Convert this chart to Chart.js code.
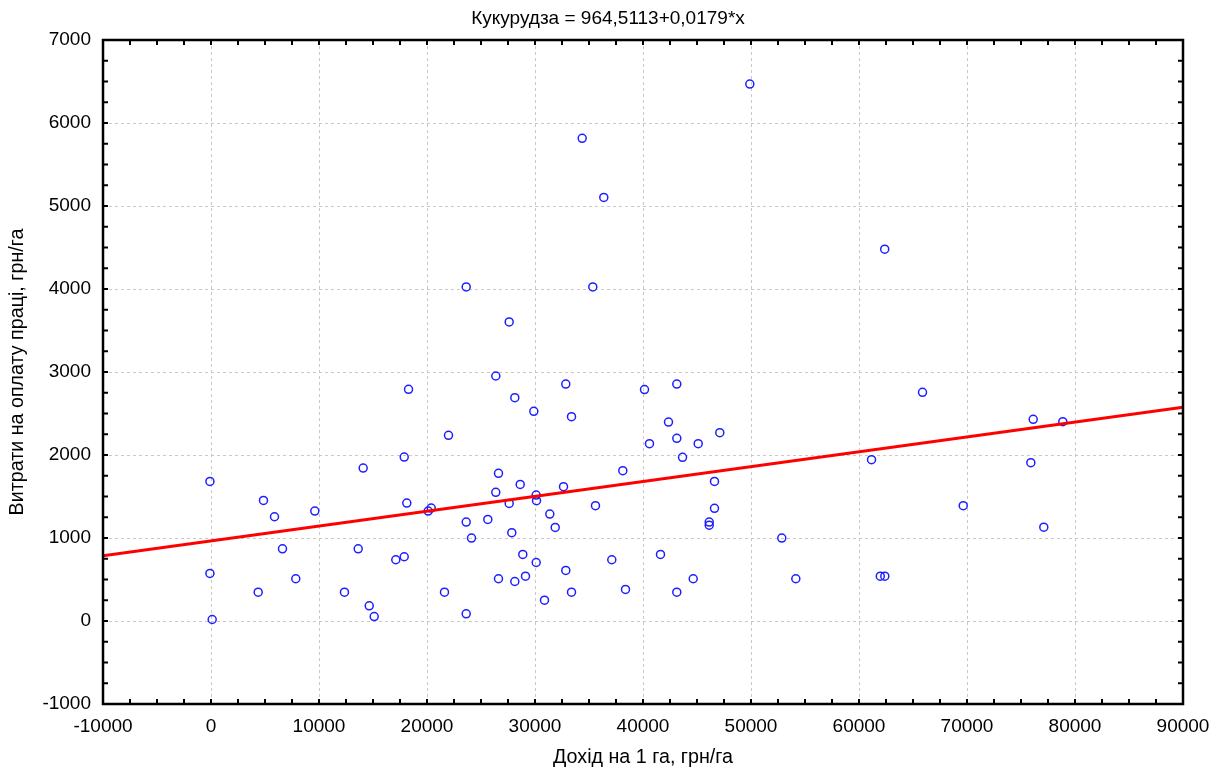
<!DOCTYPE html>
<html>
<head>
<meta charset="utf-8">
<title>Кукурудза</title>
<script src="https://cdn.jsdelivr.net/npm/chart.js@4.4.1/dist/chart.umd.min.js"></script>
<style>
html,body{margin:0;padding:0;background:#fff}
#wrap{width:1228px;height:769px}
</style>
</head>
<body>
<div id="wrap"><canvas id="c" width="1228" height="769"></canvas></div>
<script>
// Дохід на 1 га (x) та витрати на оплату праці (y), грн/га
var dohid = [
    -100, 4860, 5880, 9610, 6620, -100, 7850, 4370, 110, 14090, 17890, 21990,
    18130, 20110, 20390, 13630, 17110, 17890, 12360, 14650, 15110, 21620, 18290,
    26370, 32850, 28130, 29890, 33380, 40140, 43130, 42360, 43130, 40600, 45110,
    47110, 43660, 38130, 26620, 28630, 26370, 32640, 30110, 30140, 27610, 35600,
    31370, 31870, 25630, 23630, 24120, 27850, 46620, 46620, 46130, 46130, 28870,
    30110, 32850, 37110, 41620, 44650, 26620, 28130, 29120, 23630, 30880, 33380,
    38380, 43130,
    49890, 34370, 36370, 23630, 35350, 27610,
    62380, 65880, 76130, 78870, 61160, 75910, 69650, 77110, 52850, 54150, 61970, 62390
];
var vytraty = [
    1682, 1453, 1256, 1324, 870, 573, 509, 347, 18, 1843, 1975, 2237,
    1421, 1324, 1360, 870, 738, 774, 347, 183, 54, 347, 2791,
    2952, 2855, 2691, 2526, 2462, 2788, 2855, 2397, 2201, 2137, 2137,
    2269, 1972, 1811, 1779, 1646, 1550, 1618, 1517, 1449, 1417, 1389,
    1288, 1127, 1224, 1192, 999, 1064, 1682, 1357, 1192, 1155, 802,
    705, 609, 738, 802, 509, 509, 476, 540, 87, 251, 347,
    380, 347,
    6469, 5815, 5103, 4025, 4025, 3603,
    4480, 2755, 2430, 2402, 1944, 1907, 1389, 1131, 999, 509, 540, 540
];

// лінія регресії 964,5113 + 0,0179*x на краях осі
var fitX = [-10000, 90000];
var fitY = [785.5, 2575.5];

var xTicks = [-10000, 0, 10000, 20000, 30000, 40000, 50000, 60000, 70000, 80000, 90000];
var yTicks = [-1000, 0, 1000, 2000, 3000, 4000, 5000, 6000, 7000];

var chartTitle = 'Кукурудза = 964,5113+0,0179*x';
var xTitle = 'Дохід на 1 га, грн/га';
var yTitle = 'Витрати на оплату праці, грн/га';

var FONT = '"Liberation Sans", Arial, sans-serif';

var pts = [];
for (var i = 0; i < dohid.length; i++) pts.push({x: dohid[i], y: vytraty[i]});
var fit = [];
for (var j = 0; j < fitX.length; j++) fit.push({x: fitX[j], y: fitY[j]});

// рамка, внутрішні риски та заголовок
var ramka = {
    id: 'ramka',
    afterDatasetsDraw: function(chart) {
        var ctx = chart.ctx, a = chart.chartArea;
        var sx = chart.scales.x, sy = chart.scales.y;
        var v, p;
        ctx.save();
        ctx.strokeStyle = '#000';
        ctx.lineWidth = 2;
        ctx.beginPath();
        for (v = xTicks[0]; v <= xTicks[xTicks.length - 1]; v += 2500) {
            p = sx.getPixelForValue(v);
            ctx.moveTo(p, a.top); ctx.lineTo(p, a.top + 5);
            ctx.moveTo(p, a.bottom); ctx.lineTo(p, a.bottom - 5);
        }
        for (v = yTicks[0]; v <= yTicks[yTicks.length - 1]; v += 250) {
            p = sy.getPixelForValue(v);
            ctx.moveTo(a.left, p); ctx.lineTo(a.left + 5, p);
            ctx.moveTo(a.right, p); ctx.lineTo(a.right - 5, p);
        }
        ctx.stroke();
        ctx.lineWidth = 2.5;
        ctx.strokeRect(a.left, a.top, a.right - a.left, a.bottom - a.top);

        ctx.fillStyle = '#000';
        ctx.font = '19px ' + FONT;
        ctx.textAlign = 'center';
        ctx.textBaseline = 'alphabetic';
        ctx.fillText(chartTitle, 608, 24);
        ctx.restore();
    }
};

new Chart(document.getElementById('c'), {
    type: 'scatter',
    data: {
        datasets: [{
            type: 'line',
            data: fit,
            borderColor: '#ff0000',
            borderWidth: 3,
            pointRadius: 0,
            fill: false
        }, {
            data: pts,
            pointRadius: 4,
            pointBorderWidth: 1.5,
            pointBorderColor: '#1e1eff',
            pointBackgroundColor: 'rgba(0,0,0,0)',
            showLine: false
        }]
    },
    options: {
        responsive: false,
        animation: false,
        devicePixelRatio: 1,
        layout: { padding: { left: 0, right: 45, top: 40, bottom: 0 } },
        plugins: { legend: { display: false }, tooltip: { enabled: false }, title: { display: false } },
        scales: {
            x: {
                type: 'linear',
                min: -10000,
                max: 90000,
                afterBuildTicks: function(s) { s.ticks = xTicks.map(function(v) { return {value: v}; }); },
                afterFit: function(s) { s.height = 65; },
                grid: { color: '#c8c8c8', lineWidth: 1, drawTicks: false },
                border: { display: false, dash: [3, 3] },
                ticks: {
                    padding: 11,
                    color: '#000',
                    font: { family: FONT, size: 19 },
                    maxRotation: 0,
                    autoSkip: false,
                    callback: function(v) { return String(v); }
                },
                title: {
                    display: true,
                    text: xTitle,
                    color: '#000',
                    font: { family: FONT, size: 19.7 },
                    padding: { top: 0, bottom: 0 }
                }
            },
            y: {
                type: 'linear',
                min: -1000,
                max: 7000,
                afterBuildTicks: function(s) { s.ticks = yTicks.map(function(v) { return {value: v}; }); },
                afterFit: function(s) { s.width = 103; },
                grid: { color: '#c8c8c8', lineWidth: 1, drawTicks: false },
                border: { display: false, dash: [3, 3] },
                ticks: {
                    padding: 12,
                    color: '#000',
                    font: { family: FONT, size: 19 },
                    autoSkip: false,
                    callback: function(v) { return String(v); }
                },
                title: {
                    display: true,
                    text: yTitle,
                    color: '#000',
                    font: { family: FONT, size: 19.7 },
                    padding: { top: 6, bottom: 0 }
                }
            }
        }
    },
    plugins: [ramka]
});
</script>
</body>
</html>
